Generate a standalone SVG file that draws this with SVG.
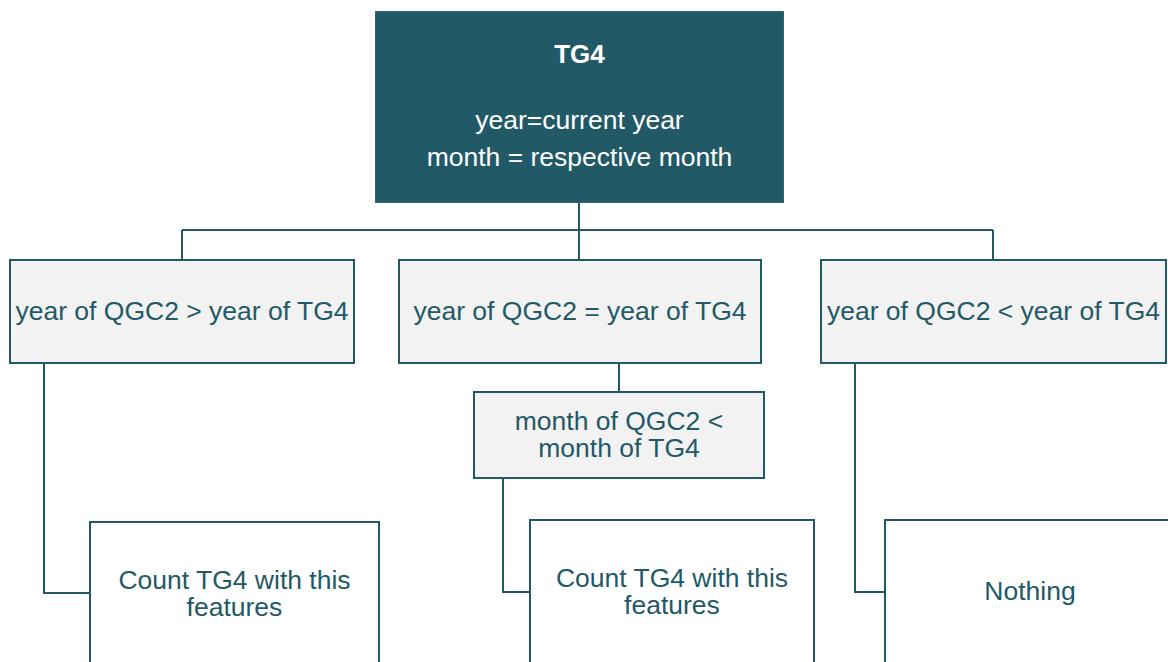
<svg xmlns="http://www.w3.org/2000/svg" width="1168" height="662" viewBox="0 0 1168 662">
  <style>
    .root rect { fill: #225966; stroke: #2f6673; stroke-width: 1; }
    .cond rect { fill: #f2f2f2; stroke: #225966; stroke-width: 2; }
    .leaf rect { fill: #ffffff; stroke: #225966; stroke-width: 2; }
    text { font-family: "Liberation Sans", Arial, sans-serif; font-size: 26.5px; text-anchor: middle; }
    .root text { fill: #ffffff; }
    .cond text, .leaf text { fill: #225966; }
    .title { font-weight: bold; font-size: 26px; }
    #connectors path { fill: none; stroke: #225966; stroke-width: 2; }
  </style>
  <rect width="1168" height="662" fill="#ffffff"/>

  <g id="connectors">
    <path d="M579 203 V230 M182 230 H993 M182 230 V260 M579 230 V260 M993 230 V260"/>
    <path d="M619 363 V392"/>
    <path d="M44 363 V593 H89"/>
    <path d="M503 478 V592 H530"/>
    <path d="M855 363 V592 H885"/>
  </g>

  <g id="tg4" class="root">
    <rect x="375.5" y="11.5" width="408" height="191"/>
    <text class="title" x="579.5" y="63">TG4</text>
    <text x="579.5" y="129">year=current year</text>
    <text x="579.5" y="166">month = respective month</text>
  </g>

  <g id="year-greater" class="cond">
    <rect x="10" y="260" width="344" height="103"/>
    <text x="182" y="320">year of QGC2 &gt; year of TG4</text>
  </g>

  <g id="year-equal" class="cond">
    <rect x="399" y="260" width="362" height="103"/>
    <text x="580" y="320">year of QGC2 = year of TG4</text>
  </g>

  <g id="year-less" class="cond">
    <rect x="821" y="260" width="345" height="103"/>
    <text x="993.5" y="320">year of QGC2 &lt; year of TG4</text>
  </g>

  <g id="month-less" class="cond">
    <rect x="474" y="392" width="290" height="86"/>
    <text x="619" y="430">month of QGC2 &lt;</text>
    <text x="619" y="457">month of TG4</text>
  </g>

  <g id="count-left" class="leaf">
    <rect x="90" y="522" width="289" height="150"/>
    <text x="234.5" y="589">Count TG4 with this</text>
    <text x="234.5" y="616">features</text>
  </g>

  <g id="count-middle" class="leaf">
    <rect x="530" y="520" width="284" height="152"/>
    <text x="672" y="587">Count TG4 with this</text>
    <text x="672" y="614">features</text>
  </g>

  <g id="nothing" class="leaf">
    <rect x="885" y="520" width="290" height="152"/>
    <text x="1030" y="600">Nothing</text>
  </g>
</svg>
